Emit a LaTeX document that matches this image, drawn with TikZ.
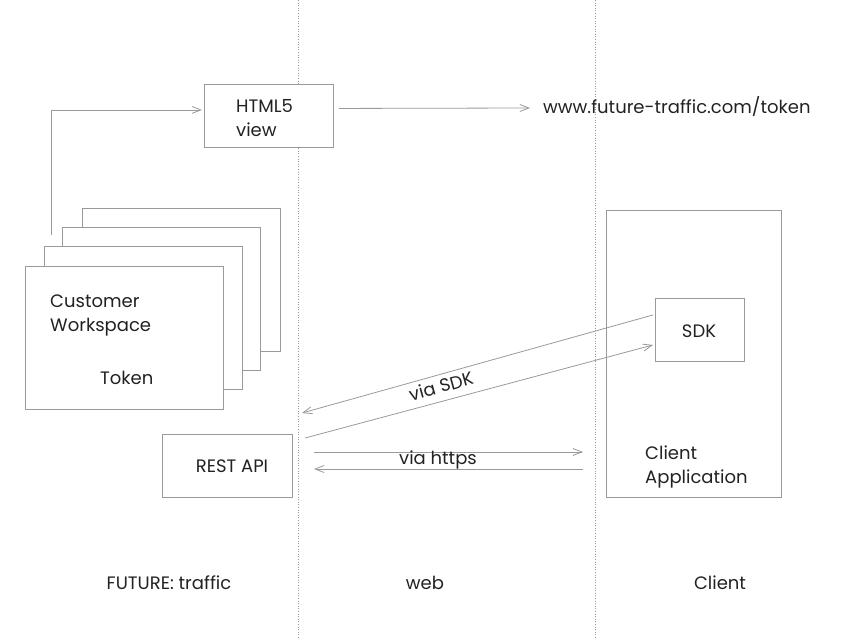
\documentclass[tikz,border=0pt]{standalone}
\usepackage{fontspec}
\setmainfont{Poppins}
\usetikzlibrary{arrows.meta}
\definecolor{linegray}{HTML}{9A9A9A}
\definecolor{txt}{HTML}{222222}
\tikzset{
  box/.style={draw=linegray, line width=0.9pt, fill=white, rectangle, inner sep=0pt},
  lbl/.style={text=txt, font=\fontsize{18}{24}\selectfont, inner sep=0pt},
  conn/.style={draw=linegray, line width=0.8pt, -{Straight Barb[length=9pt,width=7pt]}},
  lane/.style={draw=linegray, line width=0.6pt, dotted}
}
\newcommand{\bx}[5]{\node[box, minimum width=#4pt, minimum height=#5pt, anchor=north west] (#1) at (#2,#3) {};}
\begin{document}
\begin{tikzpicture}[x=1pt,y=-1pt]
\useasboundingbox (0,0) rectangle (860,640);
% lanes
\coordinate (l1t) at (298,0); \coordinate (l1b) at (298,640);
\coordinate (l2t) at (595,0); \coordinate (l2b) at (595,640);
\draw[lane] (l1t) -- (l1b);
\draw[lane] (l2t) -- (l2b);
% stacked workspaces
\bx{ws4}{82}{208}{198}{143}
\bx{ws3}{62}{227}{198}{143}
\bx{ws2}{44}{246}{198}{143}
\bx{ws1}{25}{266}{198}{143}
\node[lbl, anchor=west, align=left] (cw) at (50,315) {Customer\\Workspace};
\node[lbl, anchor=west] (tok) at (100,378) {Token};
% html5 view
\bx{html}{204}{84}{129}{63}
\node[lbl, anchor=west, align=left] (htmlt) at (236,118) {HTML5\\view};
\node[lbl, anchor=west] (url) at (543,107) {www.future-traffic.com/token};
% rest api
\bx{rest}{162}{434}{130}{63}
\node[lbl] (restt) at (232,466) {REST API};
% client app
\bx{client}{606}{210}{175}{287}
\node[lbl, anchor=west, align=left] (clientt) at (645,467) {Client\\Application};
\bx{sdk}{655}{298}{89}{63}
\node[lbl] (sdkt) at (699,331) {SDK};
% connectors
\coordinate (wsup) at (51,235);
\draw[conn] (wsup) |- ([xshift=-2pt,yshift=6pt]html.west);
\coordinate (urlin) at (530,108);
\draw[conn] ([xshift=5pt,yshift=7.5pt]html.east) -- (urlin);
\coordinate (sdkout) at ([xshift=-2pt,yshift=15pt]sdk.west);
\coordinate (sdkin) at ([xshift=-2pt,yshift=-15pt]sdk.west);
\coordinate (apiin) at (302,413);
\coordinate (apiout) at (305,438);
\draw[conn] (sdkout) -- (apiin);
\draw[conn] (apiout) -- (sdkin);
\node[lbl, rotate=15.5] (viasdk) at (441,386) {via SDK};
\coordinate (h1a) at (314,452); \coordinate (h1b) at (583,452);
\coordinate (h2a) at (583,469); \coordinate (h2b) at (314,469);
\draw[conn] (h1a) -- (h1b);
\draw[conn] (h2a) -- (h2b);
\node[lbl] (viahttps) at (438,460) {via https};
% lane labels
\node[lbl] (lf) at (169,583) {FUTURE: traffic};
\node[lbl] (lw) at (425,583) {web};
\node[lbl] (lc) at (720,583) {Client};
\end{tikzpicture}
\end{document}
